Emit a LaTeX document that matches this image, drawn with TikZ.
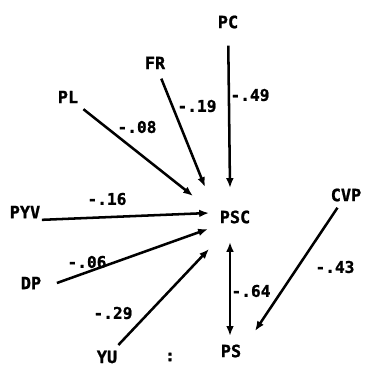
\documentclass[tikz,border=0pt]{standalone}
\usepackage{fontspec}
\newfontfamily\heavymono[FakeBold=1.2]{DejaVu Sans Mono Bold}
\usetikzlibrary{arrows.meta}
\tikzset{
  var/.style={font=\heavymono\fontsize{12}{12}\selectfont, inner sep=1pt},
  coef/.style={font=\heavymono\fontsize{11.5}{12}\selectfont, inner sep=0pt},
  path/.style={line width=1.8pt, -{Latex[length=7pt,width=5.5pt]}},
  twoway/.style={line width=1.8pt, {Latex[length=7pt,width=5.5pt]}-{Latex[length=7pt,width=5.5pt]}}
}
\begin{document}
\begin{tikzpicture}[x=0.25mm,y=-0.25mm]
	\useasboundingbox (0,0) rectangle (364,368);
	
	% variables
	\node[var] (pc) at (228,22) {PC};
	\node[var] (fr) at (155,63) {FR};
	\node[var] (pl) at (68,97) {PL};
	\node[var] (pyv) at (25,212) {PYV};
	\node[var] (dp) at (31,283) {DP};
	\node[var] (yu) at (107,357) {YU};
	\node[var] (psc) at (235,217) {PSC};
	\node[var] (cvp) at (346,195) {CVP};
	\node[var] (ps) at (231,351) {PS};
	
	% arrow ends round PSC
	\coordinate (t-pc) at (230,188);
	\coordinate (t-fr) at (205,187);
	\coordinate (t-pl) at (193,196);
	\coordinate (t-pyv) at (209,213);
	\coordinate (t-dp) at (208,229);
	\coordinate (t-yu) at (209,249);
	\coordinate (t-cvp) at (255,331);
	\coordinate (t-psc) at (230,242);
	
	% paths
	\draw[path, shorten <=11pt] (pc) -- (t-pc);
	\draw[path, shorten <=6pt] (fr) -- (t-fr);
	\draw[path, shorten <=5pt] (pl) -- (t-pl);
	\draw[path] (pyv.south east) -- (t-pyv);
	\draw[path] ([xshift=10pt]dp.east) -- (t-dp);
	\draw[path, shorten <=4pt] (yu) -- (t-yu);
	\draw[path, shorten <=4pt] (cvp) -- (t-cvp);
	\draw[twoway, shorten >=5pt] (t-psc) -- (ps.north -| t-psc);
	
	% coefficients
	\node[coef] (c-pc) at (250,95) {-.49};
	\node[coef] (c-fr) at (197,106) {-.19};
	\node[coef] (c-pl) at (137,127) {-.08};
	\node[coef] (c-pyv) at (107,199) {-.16};
	\node[coef] (c-dp) at (87,262) {-.06};
	\node[coef] (c-yu) at (113,313) {-.29};
	\node[coef] (c-ps) at (251,291) {-.64};
	\node[coef] (c-cvp) at (335,267) {-.43};
	\node[coef] (colon) at (170,357) {:};
\end{tikzpicture}
\end{document}
